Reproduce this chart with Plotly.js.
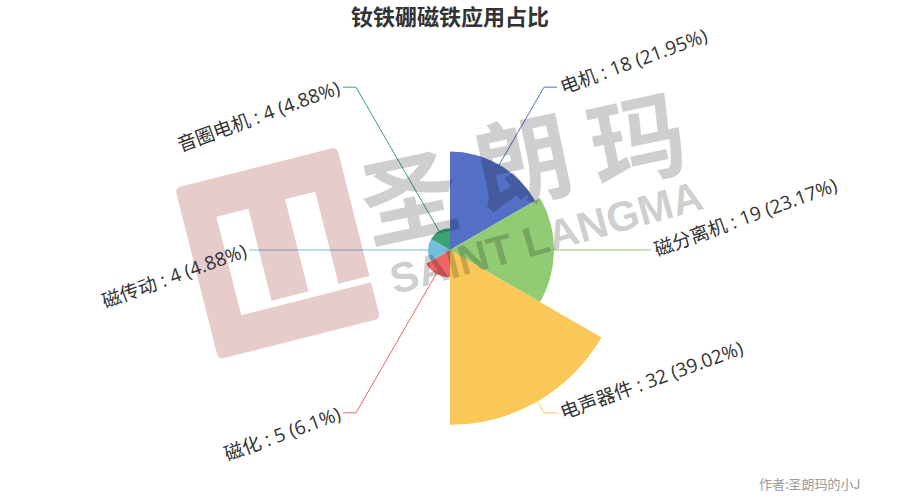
<!DOCTYPE html>
<html><head><meta charset="utf-8">
<script src="https://cdn.plot.ly/plotly-3.0.1.min.js"></script>
<style>html,body{margin:0;padding:0;background:#fff}#chart{width:900px;height:500px}</style>
</head><body><div id="chart"></div>
<script>
// ---- data ----
const categories = ['电机','磁分离机','电声器件','磁化','磁传动','音圈电机'];
const values = [18, 19, 32, 5, 4, 4];
const colors = ['#5470c6','#91cc75','#fac858','#ee6666','#73c0de','#3ba272'];
const titleText = '钕铁硼磁铁应用占比';
const footerText = '作者:圣朗玛的小J';
const wmChars = ['圣','朗','玛'];
const wmLatin = 'SAINT LANGMA';

// ---- geometry ----
const W = 900, H = 500, cx = 450, cy = 250, R = 175;
const n = values.length, step = 360 / n;
const thetas = values.map((v, i) => i * step + step / 2);
const total = values.reduce((a, b) => a + b, 0);
const maxV = Math.max(...values);
const px = x => x / W, py = y => 1 - y / H;
const FONT = '"Noto Sans CJK SC", "Noto Sans", sans-serif';
const LFONT = '"Open Sans", "Noto Sans CJK SC", sans-serif';
const ctx = document.createElement('canvas').getContext('2d');
function textW(t, size, fam) { ctx.font = 'normal ' + size + 'px ' + fam; return ctx.measureText(t).width; }

const shapes = [], annotations = [];
const LBL = 19, R1 = 188, H2 = 13, GAP = 4, ROT = 20 * Math.PI / 180;
values.forEach((v, i) => {
  const t = thetas[i] * Math.PI / 180, s = Math.sin(t), c = Math.cos(t);
  const r0 = v / maxV * R;
  const x0 = cx + r0 * s, y0 = cy - r0 * c;
  const x1 = cx + R1 * s, y1 = cy - R1 * c;
  const dir = s >= 0 ? 1 : -1;
  const x2 = x1 + H2 * dir, y2 = y1;
  shapes.push({type: 'path', xref: 'paper', yref: 'paper', layer: 'above',
    path: `M${px(x0)},${py(y0)} L${px(x1)},${py(y1)} L${px(x2)},${py(y2)}`,
    line: {color: colors[i], width: 1}});
  const pct = +(v / total * 100).toFixed(2);
  const label = `${categories[i]} : ${v} (${pct}%)`;
  const L = textW(label, LBL, LFONT);
  const ax = x2 + GAP * dir, ay = y2;
  const mx = ax + dir * (L / 2) * Math.cos(ROT), my = ay - dir * (L / 2) * Math.sin(ROT);
  annotations.push({text: label, x: px(mx), y: py(my), xref: 'paper', yref: 'paper',
    xanchor: 'center', yanchor: 'middle', showarrow: false, textangle: -20,
    font: {family: LFONT, size: LBL, color: '#333'}});
});

// ---- watermark logo (pink) ----
const O = [175, 188], ang = -14.2 * Math.PI / 180;
const U = [Math.cos(ang), Math.sin(ang)], V = [-Math.sin(ang), Math.cos(ang)];
function P(u, v) { const x = O[0] + u * U[0] + v * V[0], y = O[1] + u * U[1] + v * V[1]; return px(x) + ',' + py(y); }
const lw = 167, lh = 177, rr = 6;
const logoPath = 'M' + P(rr, 0) + ' L' + P(lw - rr, 0) + ' Q' + P(lw, 0) + ' ' + P(lw, rr) +
  ' L' + P(lw, 133) + ' L' + P(135, 133) + ' L' + P(135, 38) + ' L' + P(104, 38) + ' L' + P(104, 133) +
  ' L' + P(66, 133) + ' L' + P(66, 38) + ' L' + P(33, 38) + ' L' + P(33, 139.5) + ' L' + P(lw, 139.5) +
  ' L' + P(lw, lh - rr) + ' Q' + P(lw, lh) + ' ' + P(lw - rr, lh) + ' L' + P(rr, lh) + ' Q' + P(0, lh) + ' ' + P(0, lh - rr) +
  ' L' + P(0, rr) + ' Q' + P(0, 0) + ' ' + P(rr, 0) + ' Z';
shapes.push({type: 'path', xref: 'paper', yref: 'paper', layer: 'above', path: logoPath,
  fillcolor: 'rgba(135,0,0,0.2)', line: {width: 0}});

// gray calligraphy-like watermark
const wmPos = [[408, 192], [522, 156], [636, 134]];
wmChars.forEach((ch, i) => annotations.push({text: ch, x: px(wmPos[i][0]), y: py(wmPos[i][1]), xref: 'paper', yref: 'paper',
  xanchor: 'center', yanchor: 'middle', showarrow: false, textangle: -12,
  font: {family: FONT, size: 96, weight: 'bold', color: 'rgba(0,0,0,0.19)'}}));
annotations.push({text: wmLatin, x: px(546), y: py(237), xref: 'paper', yref: 'paper',
  xanchor: 'center', yanchor: 'middle', showarrow: false, textangle: -15.5,
  font: {family: '"Liberation Sans", Arial, sans-serif', size: 42, weight: 'bold', color: 'rgba(0,0,0,0.2)'}});

// footer
annotations.push({text: footerText, x: px(757), y: py(483), xref: 'paper', yref: 'paper',
  xanchor: 'left', yanchor: 'middle', showarrow: false,
  font: {family: FONT, size: 13, color: '#9a9a9a'}});

const trace = {type: 'barpolar', r: values, theta: thetas, width: values.map(() => step),
  marker: {color: colors, line: {width: 0}}, hoverinfo: 'skip', showlegend: false};

const layout = {
  width: W, height: H, margin: {l: 0, r: 0, t: 0, b: 0},
  paper_bgcolor: '#fff', showlegend: false,
  title: {text: titleText, x: 0.5, xanchor: 'center', y: 1 - 17 / H, yanchor: 'middle',
    font: {family: FONT, size: 22, weight: 'bold', color: '#333'}},
  polar: {domain: {x: [(cx - R) / W, (cx + R) / W], y: [1 - (cy + R) / H, 1 - (cy - R) / H]},
    bgcolor: 'rgba(0,0,0,0)', bargap: 0, hole: 0,
    radialaxis: {visible: false, range: [0, maxV], showgrid: false},
    angularaxis: {visible: false, direction: 'clockwise', rotation: 90, showgrid: false}},
  shapes: shapes, annotations: annotations
};
Plotly.newPlot('chart', [trace], layout, {displayModeBar: false, staticPlot: true});
</script></body></html>
